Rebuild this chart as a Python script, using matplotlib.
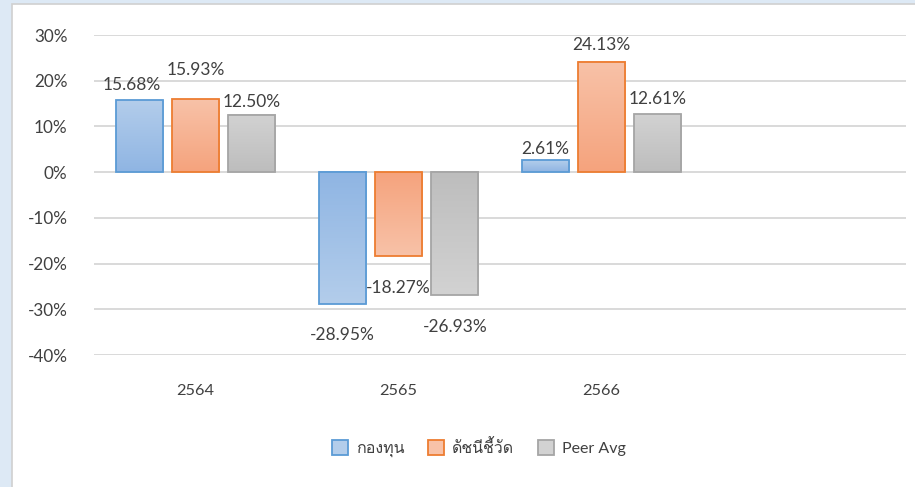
# Bar chart: fund vs. benchmark vs. peer average (yearly returns)
# -----------------------------------------------------------------------------

import numpy as np
import matplotlib
matplotlib.use("Agg")
import matplotlib.pyplot as plt
from matplotlib import font_manager, ft2font
from matplotlib.patches import Patch, Rectangle


# Data
# -----------------------------------------------------------------------------

years = ["2564", "2565", "2566"]
series_names = ["กองทุน", "ดัชนีชี้วัด", "Peer Avg"]
fund = [15.68, -28.95, 2.61]
benchmark = [15.93, -18.27, 24.13]
peer_avg = [12.50, -26.93, 12.61]

# label offsets (pixels from bar end, centre of text), one row per series
label_dx = [[-7, 0, 0],
            [0, 0, 0],
            [0, 0, 0]]
label_dy = [[15, -31, 11],
            [29, -32, 17],
            [13, -32, 15]]


# Functions
# -----------------------------------------------------------------------------

def find_thai_font():
    for f in font_manager.fontManager.ttflist:
        try:
            font = ft2font.FT2Font(f.fname)
            if 0x0E01 in font.get_charmap():
                return f.name
        except Exception:
            pass
    return None


def gradient_bar(ax, x, width, value, dark, light, edge):
    dark = np.array(matplotlib.colors.to_rgb(dark))
    light = np.array(matplotlib.colors.to_rgb(light))
    t = np.linspace(0, 1, 64)[:, None]
    if value >= 0:
        grad = dark + (light - dark) * t
        y0, y1 = 0, value
    else:
        grad = light + (dark - light) * t
        y0, y1 = value, 0
    ax.imshow(grad[:, None, :], extent=[x - width/2, x + width/2, y0, y1],
              origin="lower", aspect="auto", zorder=2, interpolation="bilinear")
    ax.add_patch(Rectangle((x - width/2, y0), width, y1 - y0, fill=False,
                           edgecolor=edge, linewidth=1.3, zorder=3))


# Plot
# -----------------------------------------------------------------------------

thai = find_thai_font()
families = ["Lato"]
if thai:
    families.append(thai)
families.append("DejaVu Sans")
plt.rcParams["font.family"] = families

text_color = "#404040"
grid_color = "#d9d9d9"

fig = plt.figure(figsize=(9.15, 4.87), dpi=100)
fig.patch.set_facecolor("#dde9f5")
# white chart panel
fig.add_artist(Rectangle((12/915, -0.05), 1.1, 1.05 - 4/487, transform=fig.transFigure,
                         facecolor="white", edgecolor="#d0d0d0", linewidth=1.2,
                         zorder=0))

ax = fig.add_axes([94/915, 1 - 355/487, (906 - 94)/915, (355 - 35)/487])
ax.set_facecolor("none")

series = [fund, benchmark, peer_avg]
darks = ["#8fb5e3", "#f5a37d", "#bdbdbd"]
lights = ["#b3cdeb", "#f8c2a8", "#d2d2d2"]
edges = ["#5b9bd5", "#ed7d31", "#a5a5a5"]
width = 0.232
step = 0.278

x = np.arange(len(years))
for i, vals in enumerate(series):
    for j, v in enumerate(vals):
        xc = x[j] + (i - 1) * step
        gradient_bar(ax, xc, width, v / 100, darks[i], lights[i], edges[i])
        ax.annotate(f"{v:.2f}%", (xc, v / 100),
                    xytext=(label_dx[i][j] * 0.72, label_dy[i][j] * 0.72),
                    textcoords="offset points", ha="center", va="center",
                    fontsize=12.5, color=text_color, zorder=4)

ax.set_xlim(-0.5, 3.5)
ax.set_ylim(-0.4, 0.3)
ax.set_yticks(np.arange(-0.4, 0.31, 0.1))
ax.set_yticklabels([f"{round(t*100):d}%" for t in np.arange(-0.4, 0.31, 0.1)])
ax.set_xticks(x)
ax.set_xticklabels(years)
ax.tick_params(axis="y", length=0, pad=19, labelsize=12.3, labelcolor=text_color)
ax.tick_params(axis="x", length=0, pad=21, labelsize=11.8, labelcolor=text_color)
ax.grid(axis="y", color=grid_color, linewidth=1.4, zorder=0)
ax.set_axisbelow(True)
for s in ax.spines.values():
    s.set_visible(False)

handles = [Patch(facecolor=lights[i], edgecolor=edges[i], linewidth=1.3)
           for i in range(3)]
fig.legend(handles, series_names, loc="center", bbox_to_anchor=(479/915, 1 - 448/487),
           ncol=3, frameon=False, fontsize=11.5, handlelength=1.0, handleheight=1.0,
           handletextpad=0.5, columnspacing=1.5, labelcolor=text_color)

fig.savefig("out.png", dpi=100, facecolor=fig.get_facecolor())
